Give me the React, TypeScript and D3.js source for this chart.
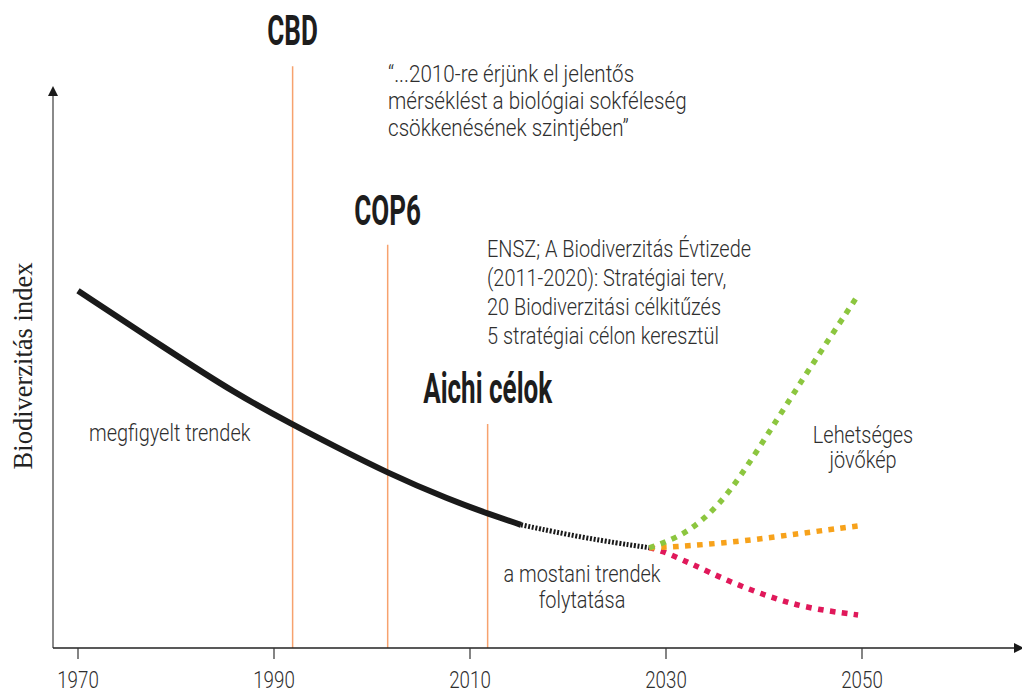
import React from "react";
import * as d3 from "d3";

// observed biodiversity index (arbitrary units)
const observedYears = [1970, 1979, 1986, 1992, 1996, 2001.4, 2008, 2012, 2015.2];
const observedIdx = [63.8, 53.4, 45.5, 39.8, 36.2, 31.4, 26.4, 23.9, 22.0];

// continuation of current trends
const trendYears = [2015.2, 2021.7, 2028.3];
const trendIdx = [22.0, 19.6, 17.9];

// possible futures
const greenYears = [2028.3, 2031.4, 2034.2, 2036.5, 2038.9, 2041.3, 2043.4, 2045.7, 2049.6];
const greenIdx = [17.9, 19.8, 23.4, 27.9, 34.1, 40.7, 46.5, 52.7, 63.0];
const orangeYears = [2028.3, 2030.4, 2037.2, 2043.9, 2049.6];
const orangeIdx = [17.9, 18.0, 18.9, 20.5, 21.8];
const redYears = [2028.3, 2029.4, 2032.4, 2036.5, 2040.6, 2044.4, 2049.6];
const redIdx = [17.9, 17.5, 15.2, 11.8, 9.1, 7.1, 5.9];

// policy milestones
const eventNames = ["CBD", "COP6", "Aichi célok"];
const eventYears = [1991.9, 2001.6, 2011.8];
const eventTops = [103.9, 72.0, 40.0];

const tickYears = [1970, 1990, 2010, 2030, 2050];

const quoteLines = [
  "\u201C...2010-re érjünk el jelentős",
  "mérséklést a biológiai sokféleség",
  "csökkenésének szintjében\u201D",
];
const unLines = [
  "ENSZ; A Biodiverzitás Évtizede",
  "(2011-2020): Stratégiai terv,",
  "20 Biodiverzitási célkitűzés",
  "5 stratégiai célon keresztül",
];

const W = 1022;
const H = 693;
const FONT = "Roboto, 'Liberation Sans', sans-serif";
const TXT = "#2e2e2e";

const x = d3.scaleLinear().domain([1970, 2050]).range([78, 862]);
const y = d3.scaleLinear().domain([0, 100]).range([648, 88]);

const line = d3
  .line<[number, number]>()
  .x((d) => x(d[0]))
  .y((d) => y(d[1]))
  .curve(d3.curveBasis);

const zip = (a: number[], b: number[]) => a.map((v, i) => [v, b[i]] as [number, number]);

// narrow text (condensed look) via horizontal scaling
const CText = ({ x0, y0, sx = 0.83, size = 24, anchor = "start", weight = 300, fill = TXT, children }: any) => (
  <text
    transform={`translate(${x0},${y0}) scale(${sx},1)`}
    textAnchor={anchor}
    fontFamily={FONT}
    fontSize={size}
    fontWeight={weight}
    fill={fill}
  >
    {children}
  </text>
);

export default function App() {
  const labelBase = [45, 225, 403];
  return (
    <svg width={W} height={H} style={{ position: "absolute", left: 0, top: 0, background: "#fff" }}>
      {/* milestone lines */}
      {eventYears.map((yr, i) => (
        <line key={i} x1={x(yr)} x2={x(yr)} y1={y(eventTops[i])} y2={y(0)} stroke="#f7a26e" strokeWidth={1.5} />
      ))}
      {eventNames.map((n, i) => (
        <CText key={n} x0={x(eventYears[i])} y0={labelBase[i]} sx={0.62} size={42} weight={700} anchor="middle" fill="#1d1d1d">
          {n}
        </CText>
      ))}

      {/* axes */}
      <line x1={53} x2={53} y1={95} y2={648} stroke="#8a8a8a" strokeWidth={2} />
      <path d="M53,86 L48,96 L58,96 Z" fill="#1a1a1a" />
      <line x1={53} x2={1016} y1={648} y2={648} stroke="#222" strokeWidth={1.5} />
      <path d="M1024,648 L1014,643 L1014,653 Z" fill="#1a1a1a" />
      {tickYears.map((t) => (
        <g key={t}>
          <line x1={x(t)} x2={x(t)} y1={648} y2={659} stroke="#333" strokeWidth={1.2} />
          <CText x0={x(t)} y0={688} anchor="middle" sx={0.78}>
            {t}
          </CText>
        </g>
      ))}
      <text
        transform={`translate(32,366) rotate(-90)`}
        textAnchor="middle"
        fontFamily="'Liberation Serif', 'DejaVu Serif', serif"
        fontSize={26.5}
        fill="#222"
      >
        Biodiverzitás index
      </text>

      {/* data lines */}
      <path d={line(zip(observedYears, observedIdx)) || ""} fill="none" stroke="#1a1a1a" strokeWidth={6} />
      <path d={line(zip(trendYears, trendIdx)) || ""} fill="none" stroke="#1a1a1a" strokeWidth={5} strokeDasharray="2 1.7" />
      <path d={line(zip(redYears, redIdx)) || ""} fill="none" stroke="#e0185a" strokeWidth={5.5} strokeDasharray="5.5 6.5" />
      <path d={line(zip(orangeYears, orangeIdx)) || ""} fill="none" stroke="#f7a21b" strokeWidth={5.5} strokeDasharray="5.5 6.5" />
      <path d={line(zip(greenYears, greenIdx)) || ""} fill="none" stroke="#8cc63f" strokeWidth={5.5} strokeDasharray="5.5 6.5" />

      {/* annotations */}
      {quoteLines.map((l, i) => (
        <CText key={l} x0={388} y0={82 + i * 27} sx={0.86}>
          {l}
        </CText>
      ))}
      {unLines.map((l, i) => (
        <CText key={l} x0={487} y0={257 + i * 29}>
          {l}
        </CText>
      ))}
      <CText x0={89} y0={441}>megfigyelt trendek</CText>
      <CText x0={582} y0={582} anchor="middle">a mostani trendek</CText>
      <CText x0={582} y0={608} anchor="middle">folytatása</CText>
      <CText x0={863} y0={443} anchor="middle">Lehetséges</CText>
      <CText x0={863} y0={468} anchor="middle">jövőkép</CText>
    </svg>
  );
}
